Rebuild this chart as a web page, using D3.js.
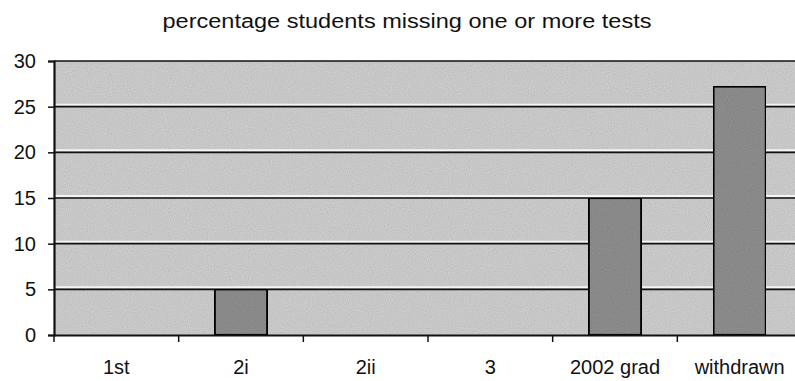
<!DOCTYPE html>
<html><head><meta charset="utf-8">
<script src="https://cdn.jsdelivr.net/npm/d3@7"></script>
<style>body{margin:0;background:#fff;}svg{display:block;font-family:"Liberation Sans",Arial,sans-serif;}</style>
</head><body>
<script>
const categories = ["1st","2i","2ii","3","2002 grad","withdrawn"];
const values = [0,5,0,0,15,27.2];
const yTicks = [0,5,10,15,20,25,30];
const title = "percentage students missing one or more tests";

const W=795,H=381;
const m={left:54,top:61,right:-7,bottom:46};
const svg=d3.select("body").append("svg").attr("width",W).attr("height",H);
const defs=svg.append("defs");
const f=defs.append("filter").attr("id","grain").attr("x",0).attr("y",0).attr("width","100%").attr("height","100%");
f.append("feTurbulence").attr("type","fractalNoise").attr("baseFrequency",0.95).attr("numOctaves",1).attr("seed",3).attr("result","n");
f.append("feColorMatrix").attr("in","n").attr("type","matrix").attr("values","0 0 0 0 0  0 0 0 0 0  0 0 0 0 0  0 0 0 0.3 0").attr("result","a");
f.append("feComposite").attr("in","a").attr("in2","SourceGraphic").attr("operator","in").attr("result","b");
f.append("feMerge").selectAll("feMergeNode").data(["SourceGraphic","b"]).enter().append("feMergeNode").attr("in",d=>d);

const x=d3.scaleBand().domain(categories).range([m.left,W-m.right]).paddingInner(0).paddingOuter(0);
const y=d3.scaleLinear().domain([0,30]).range([H-m.bottom,m.top]);

svg.append("text").attr("x",407).attr("y",28).attr("text-anchor","middle").attr("font-size",20)
 .attr("textLength",489).attr("lengthAdjust","spacingAndGlyphs").attr("fill","#111").text(title);

svg.append("rect").attr("x",m.left).attr("y",y(30)).attr("width",x.range()[1]-m.left).attr("height",y(0)-y(30)).attr("fill","#d6d6d6").attr("filter","url(#grain)");

// gridlines
svg.append("g").selectAll("line").data(yTicks.filter(d=>d>0&&d<30)).enter().append("line")
 .attr("x1",m.left).attr("x2",x.range()[1]).attr("y1",d=>y(d)-2).attr("y2",d=>y(d)-2).attr("stroke","#f4f4f4").attr("stroke-width",2);
svg.append("g").selectAll("line").data(yTicks.filter(d=>d>0)).enter().append("line")
 .attr("x1",m.left).attr("x2",x.range()[1]).attr("y1",d=>y(d)).attr("y2",d=>y(d)).attr("stroke","#111").attr("stroke-width",1.6);

// bars
const bw=x.bandwidth()*0.42;
svg.append("g").selectAll("rect").data(values.map((v,i)=>({c:categories[i],v}))).enter().filter(d=>d.v>0).append("rect")
 .attr("x",d=>x(d.c)+(x.bandwidth()-bw)/2).attr("y",d=>y(d.v)).attr("width",bw).attr("height",d=>y(0)-y(d.v))
 .attr("fill","#949494").attr("stroke","#111").attr("stroke-width",2.2).attr("filter","url(#grain)");

// y axis
const ya=svg.append("g").attr("transform",`translate(${m.left},0)`).call(d3.axisLeft(y).tickValues(yTicks).tickSize(6).tickPadding(12));
ya.select(".domain").attr("stroke","#111").attr("stroke-width",2.2);
ya.selectAll("text").attr("font-size",20).attr("fill","#111").style("font-family","Liberation Sans, Arial, sans-serif");
ya.selectAll("line").attr("stroke","#111").attr("stroke-width",1.5);

// x axis
const xa=svg.append("g").attr("transform",`translate(0,${y(0)})`).call(d3.axisBottom(x).tickSize(0).tickPadding(25));
xa.select(".domain").attr("stroke","#111").attr("stroke-width",2.2);
xa.selectAll("text").attr("font-size",20).attr("fill","#111").style("font-family","Liberation Sans, Arial, sans-serif");
const bounds=categories.map(c=>x(c));
xa.selectAll("line.b").data(bounds).enter().append("line").attr("x1",d=>d).attr("x2",d=>d).attr("y1",0).attr("y2",7).attr("stroke","#111").attr("stroke-width",1.5);
</script>
</body></html>
